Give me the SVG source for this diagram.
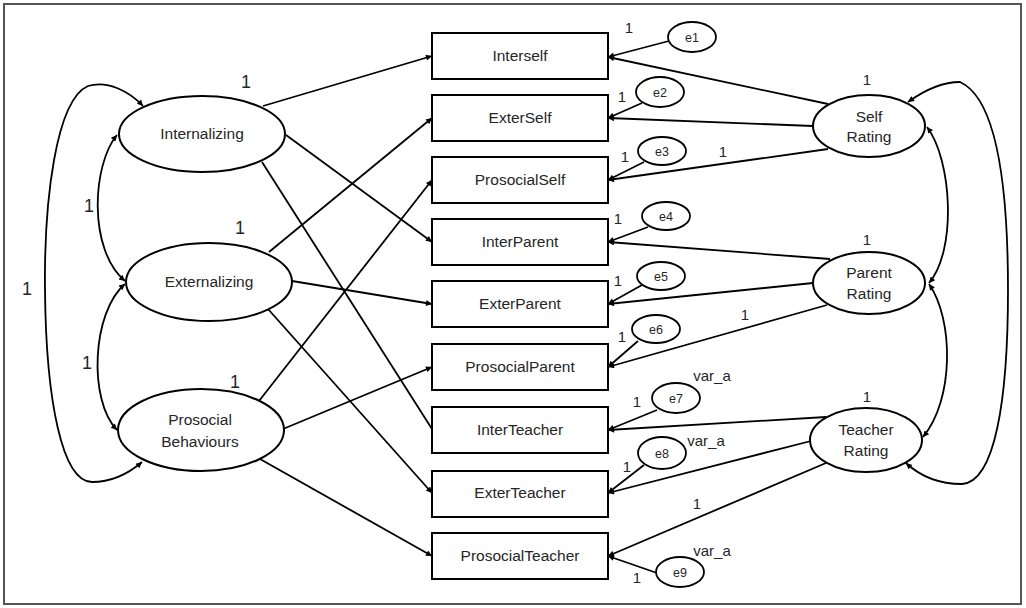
<svg xmlns="http://www.w3.org/2000/svg" width="1026" height="608" viewBox="0 0 1026 608">
<defs>
<marker id="ah" viewBox="0 0 10 10" refX="10" refY="5" markerWidth="8" markerHeight="6" markerUnits="userSpaceOnUse" orient="auto-start-reverse">
<path d="M0,0 L10,5 L0,10 Z" fill="#000"/>
</marker>
<style>
.n{fill:#fff;stroke:#000;stroke-width:2}
.e{fill:#fff;stroke:#000;stroke-width:1.8}
.t{font-family:"Liberation Sans",Arial,sans-serif;font-size:15.5px;fill:#262626;text-anchor:middle}
.s{font-family:"Liberation Sans",Arial,sans-serif;font-size:12.5px;fill:#262626;text-anchor:middle}
.l{font-family:"Liberation Sans",Arial,sans-serif;font-size:15px;fill:#262626;text-anchor:middle}
.L{font-family:"Liberation Sans",Arial,sans-serif;font-size:18px;fill:#262626;text-anchor:middle}
.c{fill:none;stroke:#000;stroke-width:1.8;marker-end:url(#ah)}
.p{fill:none;stroke:#000;stroke-width:1.8}
.b{fill:none;stroke:#000;stroke-width:1.8;marker-end:url(#ah);marker-start:url(#ah)}
</style>
</defs>
<rect x="0" y="0" width="1026" height="608" fill="#fff"/>
<rect x="4" y="4" width="1017" height="600" fill="none" stroke="#555" stroke-width="2"/>

<g id="connectors">
<line class="c" x1="263" y1="106" x2="432" y2="56"/>
<line class="c" x1="286" y1="135" x2="432" y2="242"/>
<line class="p" x1="262" y1="162" x2="432" y2="429"/>
<line class="c" x1="269" y1="252" x2="432" y2="118"/>
<line class="c" x1="292" y1="281" x2="432" y2="304"/>
<line class="c" x1="268" y1="309" x2="432" y2="493"/>
<line class="c" x1="259" y1="401" x2="432" y2="180"/>
<line class="c" x1="283" y1="429" x2="432" y2="367"/>
<line class="c" x1="260" y1="459" x2="432" y2="556"/>
<line class="c" x1="828" y1="104" x2="608" y2="57"/>
<line class="c" x1="813" y1="126" x2="608" y2="118"/>
<line class="c" x1="828" y1="149" x2="608" y2="180"/>
<line class="c" x1="830" y1="259" x2="608" y2="242"/>
<line class="c" x1="813" y1="283" x2="608" y2="304"/>
<line class="c" x1="827" y1="305" x2="608" y2="367"/>
<line class="c" x1="826" y1="417" x2="608" y2="430"/>
<line class="c" x1="811" y1="441" x2="608" y2="493"/>
<line class="c" x1="826" y1="463" x2="608" y2="556"/>
<line class="c" x1="669" y1="41" x2="608" y2="57"/>
<line class="c" x1="642" y1="103" x2="608" y2="118"/>
<line class="c" x1="644" y1="162" x2="608" y2="180"/>
<line class="c" x1="648" y1="227" x2="608" y2="242"/>
<line class="c" x1="642" y1="285" x2="608" y2="304"/>
<line class="c" x1="638" y1="341" x2="608" y2="367"/>
<line class="c" x1="657" y1="410" x2="608" y2="430"/>
<line class="c" x1="644" y1="465" x2="608" y2="493"/>
<line class="c" x1="657" y1="573" x2="608" y2="556"/>
<path class="b" d="M117,135 C92,165 88,250 125,281"/>
<path class="b" d="M125,284 C92,312 88,400 117,430"/>
<path class="b" d="M143,106 C130,92 108,80 88,86 C56,100 44,200 45,290 C46,400 62,482 92,482 C112,482 128,474 142,462"/>
<path class="b" d="M927,127 C952,160 957,250 929,283"/>
<path class="b" d="M929,284 C954,320 954,400 923,437"/>
<path class="b" d="M908,102 C922,92 940,82 960,82 C1000,100 1008,200 1008,290 C1008,400 995,482 962,484 C940,484 920,476 906,463"/>
</g>

<g id="Internalizing"><ellipse class="n" cx="202" cy="134" rx="83" ry="38"/><text class="t" x="202" y="139">Internalizing</text></g>
<g id="Externalizing"><ellipse class="n" cx="209" cy="282" rx="83" ry="39"/><text class="t" x="209" y="287">Externalizing</text></g>
<g id="ProsocialBehaviours"><ellipse class="n" cx="201" cy="430" rx="83" ry="41"/><text class="t" x="200" y="425">Prosocial</text><text class="t" x="200" y="447">Behaviours</text></g>

<g id="Interself"><rect class="n" x="432" y="33" width="176" height="46"/><text class="t" x="520" y="61">Interself</text></g>
<g id="ExterSelf"><rect class="n" x="432" y="95" width="176" height="46"/><text class="t" x="520" y="123">ExterSelf</text></g>
<g id="ProsocialSelf"><rect class="n" x="432" y="157" width="176" height="46"/><text class="t" x="520" y="185">ProsocialSelf</text></g>
<g id="InterParent"><rect class="n" x="432" y="219" width="176" height="46"/><text class="t" x="520" y="247">InterParent</text></g>
<g id="ExterParent"><rect class="n" x="432" y="281" width="176" height="46"/><text class="t" x="520" y="309">ExterParent</text></g>
<g id="ProsocialParent"><rect class="n" x="432" y="344" width="176" height="46"/><text class="t" x="520" y="372">ProsocialParent</text></g>
<g id="InterTeacher"><rect class="n" x="432" y="407" width="176" height="46"/><text class="t" x="520" y="435">InterTeacher</text></g>
<g id="ExterTeacher"><rect class="n" x="432" y="471" width="176" height="46"/><text class="t" x="520" y="498">ExterTeacher</text></g>
<g id="ProsocialTeacher"><rect class="n" x="432" y="533" width="176" height="46"/><text class="t" x="520" y="561">ProsocialTeacher</text></g>

<g id="e1"><ellipse class="e" cx="692" cy="37" rx="24" ry="15"/><text class="s" x="692" y="42">e1</text></g>
<g id="e2"><ellipse class="e" cx="660" cy="92" rx="24" ry="15"/><text class="s" x="660" y="97">e2</text></g>
<g id="e3"><ellipse class="e" cx="662" cy="151" rx="24" ry="14"/><text class="s" x="662" y="156">e3</text></g>
<g id="e4"><ellipse class="e" cx="666" cy="216" rx="24" ry="14"/><text class="s" x="666" y="221">e4</text></g>
<g id="e5"><ellipse class="e" cx="661" cy="276" rx="24" ry="14"/><text class="s" x="661" y="281">e5</text></g>
<g id="e6"><ellipse class="e" cx="656" cy="329" rx="24" ry="14"/><text class="s" x="656" y="334">e6</text></g>
<g id="e7"><ellipse class="e" cx="676" cy="398" rx="24" ry="15"/><text class="s" x="676" y="403">e7</text></g>
<g id="e8"><ellipse class="e" cx="662" cy="453" rx="24" ry="16"/><text class="s" x="662" y="458">e8</text></g>
<g id="e9"><ellipse class="e" cx="680" cy="572" rx="24" ry="15"/><text class="s" x="680" y="577">e9</text></g>

<g id="SelfRating"><ellipse class="n" cx="869" cy="126" rx="56" ry="31"/><text class="t" x="869" y="122">Self</text><text class="t" x="869" y="142">Rating</text></g>
<g id="ParentRating"><ellipse class="n" cx="869" cy="283" rx="56" ry="31"/><text class="t" x="869" y="278">Parent</text><text class="t" x="869" y="299">Rating</text></g>
<g id="TeacherRating"><ellipse class="n" cx="866" cy="440" rx="56" ry="32"/><text class="t" x="866" y="435">Teacher</text><text class="t" x="866" y="456">Rating</text></g>

<g id="labels">
<text class="L" x="246" y="88">1</text>
<text class="L" x="240" y="234">1</text>
<text class="L" x="235" y="388">1</text>
<text class="L" x="89" y="212">1</text>
<text class="L" x="87" y="369">1</text>
<text class="L" x="27" y="295">1</text>
<text class="l" x="867" y="85">1</text>
<text class="l" x="867" y="245">1</text>
<text class="l" x="867" y="402">1</text>
<text class="l" x="629" y="33">1</text>
<text class="l" x="622" y="102">1</text>
<text class="l" x="625" y="162">1</text>
<text class="l" x="723" y="157">1</text>
<text class="l" x="618" y="224">1</text>
<text class="l" x="618" y="286">1</text>
<text class="l" x="745" y="320">1</text>
<text class="l" x="622" y="342">1</text>
<text class="l" x="712" y="381">var_a</text>
<text class="l" x="637" y="407">1</text>
<text class="l" x="706" y="446">var_a</text>
<text class="l" x="627" y="472">1</text>
<text class="l" x="697" y="509">1</text>
<text class="l" x="712" y="556">var_a</text>
<text class="l" x="637" y="583">1</text>
</g>
</svg>
